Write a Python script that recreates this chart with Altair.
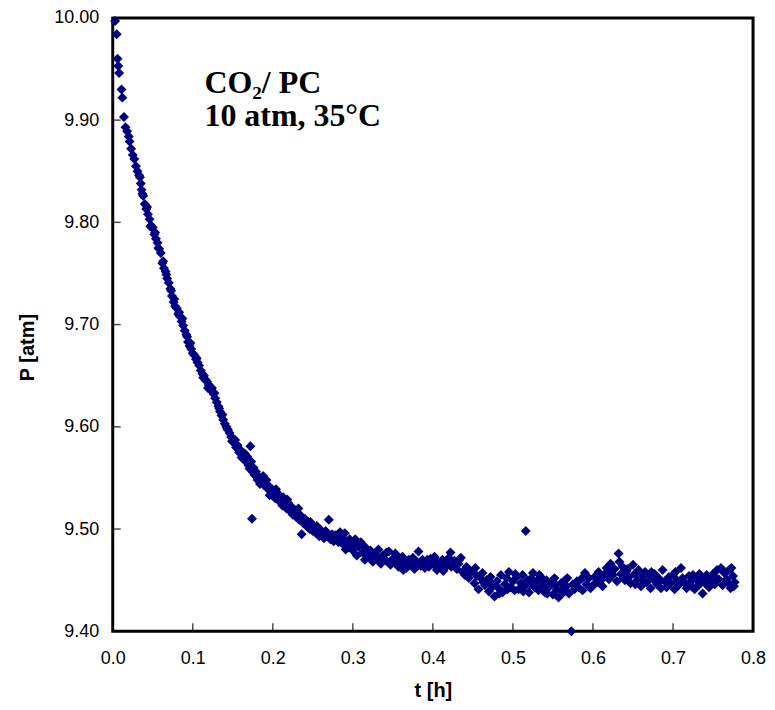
import altair as alt
import pandas as pd

# ---- data ----
t_early = [0.003, 0.005, 0.006, 0.007, 0.008, 0.011, 0.012, 0.014, 0.016, 0.018,
           0.020, 0.021, 0.023, 0.025, 0.027, 0.029]
p_early = [9.997, 9.984, 9.960, 9.953, 9.946, 9.930, 9.922, 9.903, 9.893, 9.889,
           9.884, 9.879, 9.872, 9.866, 9.862, 9.855]

t_a = [0.031, 0.033, 0.035, 0.036, 0.038, 0.040, 0.042, 0.044, 0.046, 0.048,
       0.050, 0.052, 0.054, 0.056, 0.058, 0.060, 0.062, 0.064, 0.066, 0.068,
       0.070, 0.072, 0.074, 0.076, 0.078, 0.080, 0.082, 0.084, 0.086, 0.088,
       0.090, 0.092, 0.094, 0.096, 0.098, 0.100,
       0.034, 0.037, 0.043, 0.047, 0.053, 0.057, 0.063, 0.067, 0.073, 0.077,
       0.083, 0.087, 0.093, 0.097]
p_a = [9.850, 9.846, 9.838, 9.832, 9.826, 9.818, 9.813, 9.808, 9.803, 9.797,
       9.795, 9.788, 9.784, 9.780, 9.774, 9.770, 9.760, 9.755, 9.752, 9.745,
       9.741, 9.735, 9.728, 9.722, 9.718, 9.716, 9.710, 9.708, 9.703, 9.699,
       9.694, 9.690, 9.683, 9.679, 9.676, 9.672,
       9.844, 9.828, 9.815, 9.796, 9.790, 9.775, 9.762, 9.749, 9.733, 9.725,
       9.712, 9.706, 9.688, 9.682]

t_b = [0.102, 0.104, 0.106, 0.108, 0.110, 0.112, 0.114, 0.116, 0.118, 0.120,
       0.122, 0.124, 0.126, 0.128, 0.130, 0.132, 0.134, 0.136, 0.138, 0.140,
       0.142, 0.144, 0.146, 0.148, 0.150, 0.152, 0.154, 0.156, 0.158, 0.160,
       0.162, 0.164, 0.166, 0.168, 0.170, 0.172, 0.174, 0.175, 0.177, 0.179,
       0.181, 0.183, 0.185, 0.187, 0.189, 0.191, 0.193, 0.195, 0.197, 0.199,
       0.105, 0.113, 0.119, 0.127, 0.133, 0.137, 0.143, 0.149, 0.153, 0.157,
       0.161, 0.165, 0.171, 0.176, 0.180, 0.184, 0.188, 0.192, 0.196, 0.173]
p_b = [9.670, 9.666, 9.663, 9.660, 9.655, 9.652, 9.650, 9.646, 9.644, 9.641,
       9.636, 9.638, 9.632, 9.628, 9.624, 9.620, 9.615, 9.611, 9.607, 9.603,
       9.600, 9.597, 9.594, 9.590, 9.589, 9.584, 9.580, 9.582, 9.575, 9.577,
       9.573, 9.569, 9.566, 9.571, 9.562, 9.581, 9.510, 9.556, 9.553, 9.556,
       9.548, 9.551, 9.546, 9.549, 9.543, 9.545, 9.540, 9.542, 9.537, 9.539,
       9.667, 9.648, 9.638, 9.633, 9.618, 9.612, 9.598, 9.586, 9.587, 9.578,
       9.570, 9.574, 9.559, 9.560, 9.551, 9.544, 9.552, 9.548, 9.533, 9.566]

t_c = [0.201, 0.203, 0.205, 0.207, 0.209, 0.211, 0.213, 0.215, 0.217, 0.219,
       0.221, 0.223, 0.225, 0.227, 0.229, 0.231, 0.233, 0.235, 0.236, 0.238,
       0.240, 0.242, 0.244, 0.246, 0.248, 0.250, 0.252, 0.254, 0.256, 0.258,
       0.260, 0.262, 0.264, 0.266, 0.268, 0.270, 0.272, 0.274, 0.276, 0.278,
       0.280, 0.282, 0.284, 0.286, 0.288, 0.290, 0.292, 0.294, 0.296, 0.298,
       0.204, 0.212, 0.218, 0.224, 0.232, 0.241, 0.247, 0.255, 0.259, 0.265,
       0.275, 0.283, 0.291]
p_c = [9.535, 9.530, 9.536, 9.528, 9.532, 9.527, 9.531, 9.524, 9.520, 9.526,
       9.518, 9.522, 9.514, 9.519, 9.512, 9.516, 9.509, 9.513, 9.495, 9.506,
       9.510, 9.503, 9.507, 9.500, 9.504, 9.498, 9.502, 9.496, 9.500, 9.493,
       9.499, 9.495, 9.491, 9.498, 9.493, 9.509, 9.490, 9.495, 9.488, 9.494,
       9.490, 9.487, 9.497, 9.491, 9.485, 9.496, 9.488, 9.482, 9.490, 9.484,
       9.539, 9.523, 9.529, 9.517, 9.520, 9.505, 9.507, 9.503, 9.496, 9.494,
       9.492, 9.493, 9.480]

t_d = [0.300, 0.302, 0.305, 0.307, 0.310, 0.312, 0.315, 0.317, 0.320, 0.322,
       0.325, 0.327, 0.330, 0.332, 0.335, 0.337, 0.340, 0.342, 0.345, 0.347,
       0.350, 0.352, 0.355, 0.357, 0.360, 0.362, 0.365, 0.367, 0.370, 0.372,
       0.375, 0.377, 0.380, 0.382, 0.385, 0.387, 0.390, 0.392, 0.395, 0.397,
       0.400, 0.402, 0.405, 0.407, 0.410, 0.412, 0.415, 0.417, 0.420, 0.422,
       0.425, 0.427, 0.430, 0.432, 0.435, 0.437, 0.440, 0.442, 0.445, 0.447,
       0.303, 0.313, 0.323, 0.333, 0.343, 0.353, 0.363, 0.373, 0.383, 0.393,
       0.403, 0.413, 0.423, 0.433]
p_d = [9.479, 9.486, 9.474, 9.483, 9.487, 9.477, 9.470, 9.481, 9.474, 9.479,
       9.468, 9.476, 9.472, 9.480, 9.466, 9.474, 9.470, 9.477, 9.478, 9.465,
       9.471, 9.467, 9.474, 9.463, 9.469, 9.473, 9.466, 9.462, 9.470, 9.465,
       9.472, 9.461, 9.468, 9.478, 9.464, 9.470, 9.462, 9.467, 9.463, 9.471,
       9.466, 9.473, 9.460, 9.468, 9.464, 9.470, 9.462, 9.467, 9.472, 9.477,
       9.465, 9.469, 9.461, 9.466, 9.472, 9.458, 9.455, 9.463, 9.452, 9.458,
       9.490, 9.484, 9.471, 9.469, 9.468, 9.476, 9.460, 9.468, 9.466, 9.470,
       9.464, 9.459, 9.463, 9.470]

t_e = [0.450, 0.452, 0.455, 0.457, 0.460, 0.462, 0.465, 0.467, 0.470, 0.472,
       0.475, 0.477, 0.480, 0.482, 0.485, 0.487, 0.490, 0.492, 0.495, 0.497,
       0.500, 0.502, 0.505, 0.507, 0.510, 0.512, 0.515, 0.516, 0.518, 0.520,
       0.522, 0.525, 0.527, 0.530, 0.532, 0.535, 0.537, 0.540, 0.542, 0.545,
       0.547, 0.550, 0.552, 0.555, 0.557, 0.560, 0.562, 0.565, 0.567, 0.570,
       0.573, 0.575, 0.577, 0.580, 0.582, 0.585, 0.587, 0.590, 0.592, 0.595,
       0.597,
       0.453, 0.463, 0.473, 0.483, 0.493, 0.503, 0.513, 0.523, 0.533, 0.543,
       0.553, 0.563, 0.568, 0.578, 0.588]
p_e = [9.459, 9.447, 9.454, 9.441, 9.452, 9.457, 9.445, 9.450, 9.439, 9.453,
       9.444, 9.434, 9.449, 9.442, 9.455, 9.438, 9.446, 9.452, 9.458, 9.443,
       9.449, 9.440, 9.453, 9.441, 9.447, 9.455, 9.444, 9.498, 9.450, 9.438,
       9.446, 9.457, 9.443, 9.449, 9.440, 9.453, 9.445, 9.438, 9.450, 9.443,
       9.448, 9.436, 9.452, 9.441, 9.433, 9.447, 9.440, 9.450, 9.444, 9.437,
       9.400, 9.446, 9.441, 9.449, 9.443, 9.451, 9.440, 9.457, 9.446, 9.452,
       9.442,
       9.462, 9.448, 9.447, 9.437, 9.441, 9.456, 9.439, 9.452, 9.455, 9.437,
       9.446, 9.438, 9.452, 9.447, 9.453]

t_f = [0.600, 0.602, 0.605, 0.607, 0.610, 0.612, 0.615, 0.617, 0.620, 0.622,
       0.625, 0.627, 0.630, 0.632, 0.633, 0.635, 0.637, 0.640, 0.642, 0.645,
       0.647, 0.650, 0.652, 0.655, 0.657, 0.660, 0.662, 0.665, 0.667, 0.670,
       0.672, 0.675, 0.677, 0.680, 0.682, 0.685, 0.687, 0.690, 0.692, 0.695,
       0.697, 0.700, 0.702, 0.705, 0.707, 0.710, 0.712, 0.715, 0.717, 0.720,
       0.722, 0.725, 0.727, 0.730, 0.732, 0.735, 0.737, 0.740, 0.742, 0.745,
       0.747, 0.750, 0.752, 0.755, 0.757, 0.760, 0.762, 0.765, 0.767, 0.770,
       0.772, 0.775, 0.777,
       0.603, 0.613, 0.623, 0.638, 0.643, 0.653, 0.663, 0.673, 0.683, 0.693,
       0.703, 0.713, 0.723, 0.733, 0.743, 0.753, 0.763, 0.768, 0.773, 0.776]
p_f = [9.445, 9.453, 9.448, 9.458, 9.450, 9.444, 9.456, 9.462, 9.451, 9.466,
       9.455, 9.461, 9.449, 9.476, 9.468, 9.456, 9.463, 9.450, 9.459, 9.453,
       9.447, 9.465, 9.456, 9.450, 9.460, 9.444, 9.454, 9.458, 9.448, 9.455,
       9.442, 9.451, 9.456, 9.446, 9.452, 9.442, 9.460, 9.449, 9.443, 9.453,
       9.447, 9.455, 9.441, 9.450, 9.445, 9.462, 9.452, 9.447, 9.442, 9.454,
       9.448, 9.455, 9.441, 9.450, 9.445, 9.452, 9.437, 9.447, 9.455, 9.443,
       9.450, 9.456, 9.446, 9.460, 9.451, 9.462, 9.445, 9.457, 9.451, 9.460,
       9.442, 9.454, 9.448,
       9.447, 9.454, 9.459, 9.452, 9.461, 9.446, 9.450, 9.458, 9.448, 9.451,
       9.458, 9.449, 9.444, 9.456, 9.449, 9.452, 9.458, 9.448, 9.462, 9.444]

x_ticks = [0.1, 0.2, 0.3, 0.4, 0.5, 0.6, 0.7]
y_ticks = [9.5, 9.6, 9.7, 9.8, 9.9]
note_lines = ["CO\u2082/ PC", "10 atm, 35\u00b0C"]
note_t = [0.1146, 0.1146]
note_p = [9.927, 9.8946]

t_all = t_early + t_a + t_b + t_c + t_d + t_e + t_f
p_all = p_early + p_a + p_b + p_c + p_d + p_e + p_f
df = pd.DataFrame({"t": t_all, "P": p_all})
df_xt = pd.DataFrame({"t": x_ticks})
df_yt = pd.DataFrame({"P": y_ticks})
df_note = pd.DataFrame({"t": note_t, "P": note_p, "label": note_lines})

label_font = "Liberation Sans, Arial"

xscale = alt.Scale(domain=[0, 0.8], nice=False, zero=False)
yscale = alt.Scale(domain=[9.4, 10.0], nice=False, zero=False)

points = alt.Chart(df).mark_point(
    shape="diamond", filled=True, size=100, color="#000080", opacity=1, clip=False
).encode(
    x=alt.X("t:Q", scale=xscale,
            axis=alt.Axis(title="t [h]", values=[0, 0.1, 0.2, 0.3, 0.4, 0.5, 0.6, 0.7, 0.8],
                          format=".1f", ticks=False, tickSize=0, domain=False, grid=False,
                          labelFlush=False, labelOverlap=False,
                          labelFont=label_font, labelFontSize=18, labelColor="black",
                          labelPadding=18, titleFont="Liberation Sans", titleFontSize=20,
                          titleFontWeight="bold", titleColor="black", titlePadding=13)),
    y=alt.Y("P:Q", scale=yscale,
            axis=alt.Axis(title="P  [atm]", values=[9.4, 9.5, 9.6, 9.7, 9.8, 9.9, 10.0],
                          format=".2f", ticks=False, tickSize=0, domain=False, grid=False,
                          labelFlush=False, labelOverlap=False,
                          labelFont=label_font, labelFontSize=18, labelColor="black",
                          labelPadding=14, titleFont="Liberation Sans", titleFontSize=20,
                          titleFontWeight="bold", titleColor="black", titlePadding=16,
                          titleY=330)),
)

xt = alt.Chart(df_xt).mark_tick(orient="vertical", size=8, thickness=1.5,
                                 color="black", yOffset=-4).encode(
    x=alt.X("t:Q", scale=xscale),
    y=alt.Y(datum=9.4, scale=yscale),
)
yt = alt.Chart(df_yt).mark_tick(orient="horizontal", size=8, thickness=1.5,
                                 color="black", xOffset=4).encode(
    x=alt.X(datum=0, scale=xscale),
    y=alt.Y("P:Q", scale=yscale),
)

note = alt.Chart(df_note).mark_text(
    font="Liberation Serif", fontSize=32, fontWeight="bold", align="left",
    baseline="alphabetic", color="black"
).encode(
    x=alt.X("t:Q", scale=xscale),
    y=alt.Y("P:Q", scale=yscale),
    text="label:N",
)

chart = alt.layer(points, xt, yt, note).properties(
    width=642, height=615,
    autosize=alt.AutoSizeParams(type="none"),
    padding={"left": 105, "top": 9, "right": 14, "bottom": 75},
).configure_view(
    stroke="black", strokeWidth=3
)

chart.save("out.html", embed_options={"renderer": "svg", "actions": False})
